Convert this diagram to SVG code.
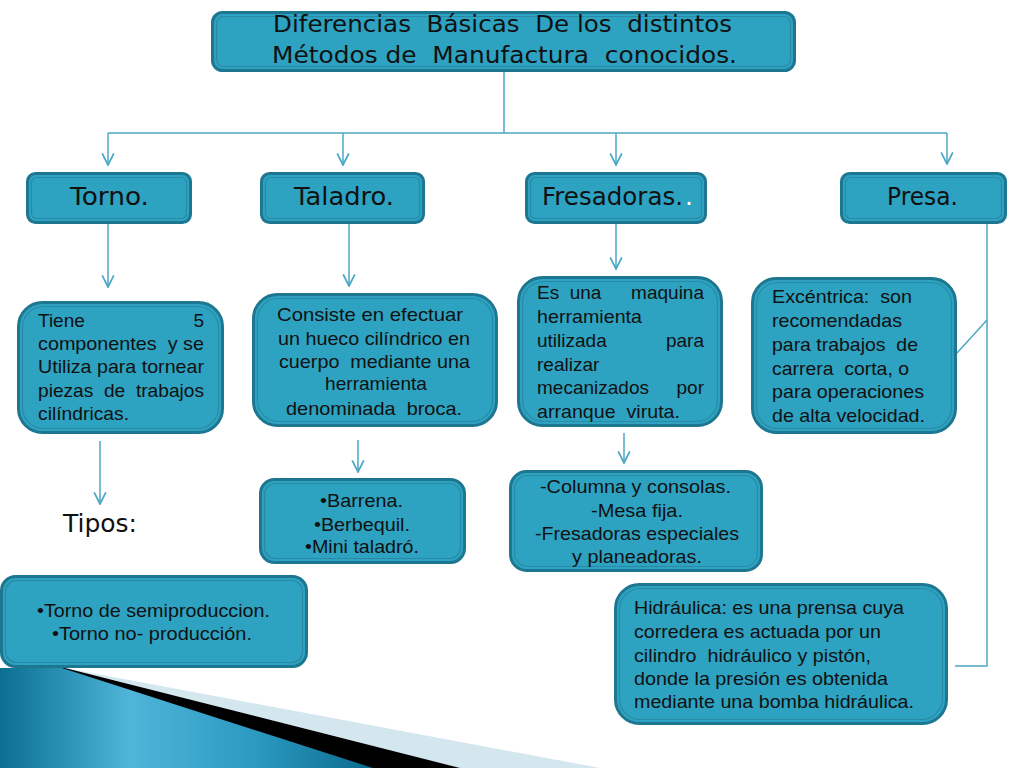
<svg xmlns="http://www.w3.org/2000/svg" width="1024" height="768" viewBox="0 0 1024 768">
<defs>
<style>
.box{fill:#2da2c1;stroke:#1d7790;stroke-width:3}
.inner{fill:none;stroke:#2a8aa5;stroke-width:1.2}
.hd{font-family:"DejaVu Sans","Verdana",sans-serif;font-size:25px;fill:#111;white-space:pre}
.ti{font-family:"DejaVu Sans","Verdana",sans-serif;font-size:23px;fill:#111;white-space:pre}
.bd{font-family:"Liberation Sans",Arial,sans-serif;font-size:19px;fill:#111;white-space:pre}
.c{fill:none;stroke:#4ba7c5;stroke-width:1.5}
.a{marker-end:url(#arr)}
</style>
<marker id="arr" markerUnits="userSpaceOnUse" markerWidth="14" markerHeight="14" viewBox="0 0 12 12" refX="11" refY="6" orient="auto">
<path d="M1,1 L11,6 L1,11" fill="none" stroke="#4ba7c5" stroke-width="1.5"/>
</marker>
<linearGradient id="wave" x1="0" y1="0" x2="1" y2="0">
<stop offset="0" stop-color="#0a6f91"/>
<stop offset="0.35" stop-color="#4fb5d9"/>
<stop offset="0.7" stop-color="#2a98bf"/>
<stop offset="1" stop-color="#0b6a8c"/>
</linearGradient>
</defs>
<rect width="1024" height="768" fill="#fff"/>

<g id="decoration">
<polygon points="0,668 65,668 600,768 0,768" fill="#d4e7ef"/>
<polygon points="0,668 65,668 460,768 0,768" fill="#000"/>
<polygon points="0,668 62,668 373,768 0,768" fill="url(#wave)"/>
</g>

<g id="connectors">
<line class="c" x1="504" y1="72" x2="504" y2="133"/>
<line class="c" x1="108" y1="133" x2="947" y2="133"/>
<line class="c a" x1="108" y1="133" x2="108" y2="165"/>
<line class="c a" x1="343" y1="133" x2="343" y2="165"/>
<line class="c a" x1="616" y1="133" x2="616" y2="165"/>
<line class="c a" x1="947" y1="133" x2="947" y2="164"/>
<line class="c a" x1="108" y1="224" x2="108" y2="287"/>
<line class="c a" x1="349" y1="224" x2="349" y2="286"/>
<line class="c a" x1="616" y1="224" x2="616" y2="269"/>
<line class="c a" x1="100" y1="441" x2="100" y2="504"/>
<line class="c a" x1="358" y1="440" x2="358" y2="472"/>
<line class="c a" x1="624" y1="433" x2="624" y2="463"/>
<polyline class="c" points="987,224 987,666 955,666"/>
<line class="c" x1="957" y1="353" x2="987" y2="320"/>
</g>

<g id="title">
<rect class="box" x="212.5" y="12.5" width="582" height="58" rx="10"/>
<rect class="inner" x="216.5" y="16.5" width="574" height="50" rx="7"/>
<text class="ti" x="273" y="32" textLength="459" lengthAdjust="spacingAndGlyphs">Diferencias  Básicas  De los  distintos</text>
<text class="ti" x="272" y="63" textLength="465" lengthAdjust="spacingAndGlyphs">Métodos de  Manufactura  conocidos.</text>
</g>

<g id="torno">
<rect class="box" x="27.5" y="173.5" width="163" height="49" rx="8"/>
<rect class="inner" x="31.5" y="177.5" width="155" height="41" rx="5"/>
<text class="hd" x="70" y="205" textLength="79" lengthAdjust="spacingAndGlyphs">Torno.</text>
</g>

<g id="taladro">
<rect class="box" x="261.5" y="173.5" width="162" height="49" rx="8"/>
<rect class="inner" x="265.5" y="177.5" width="154" height="41" rx="5"/>
<text class="hd" x="294" y="205" textLength="100" lengthAdjust="spacingAndGlyphs">Taladro.</text>
</g>

<g id="fresadoras">
<rect class="box" x="526.5" y="173.5" width="179" height="49" rx="8"/>
<rect class="inner" x="530.5" y="177.5" width="171" height="41" rx="5"/>
<text class="hd" x="542" y="205" textLength="141" lengthAdjust="spacingAndGlyphs">Fresadoras.</text>
<text class="hd" x="685" y="205" fill="#ffffff" style="fill:#ffffff">.</text>
</g>

<g id="presa">
<rect class="box" x="841.5" y="173.5" width="164" height="49" rx="8"/>
<rect class="inner" x="845.5" y="177.5" width="156" height="41" rx="5"/>
<text class="hd" x="887" y="205" textLength="71" lengthAdjust="spacingAndGlyphs">Presa.</text>
</g>

<g id="torno-desc">
<rect class="box" x="18.5" y="302.5" width="204" height="130" rx="24"/>
<rect class="inner" x="22.5" y="306.5" width="196" height="122" rx="21"/>
<text class="bd" x="38" y="327">Tiene</text>
<text class="bd" x="204" y="327" text-anchor="end">5</text>
<text class="bd" x="38" y="350" textLength="166" lengthAdjust="spacingAndGlyphs">componentes  y se</text>
<text class="bd" x="38" y="373" textLength="166" lengthAdjust="spacingAndGlyphs">Utiliza para tornear</text>
<text class="bd" x="38" y="397" textLength="166" lengthAdjust="spacingAndGlyphs">piezas  de  trabajos</text>
<text class="bd" x="38" y="420" textLength="91" lengthAdjust="spacingAndGlyphs">cilíndricas.</text>
</g>

<g id="taladro-desc">
<rect class="box" x="253.5" y="294.5" width="243" height="131" rx="24"/>
<rect class="inner" x="257.5" y="298.5" width="235" height="123" rx="21"/>
<text class="bd" x="277" y="321" textLength="186" lengthAdjust="spacingAndGlyphs">Consiste en efectuar</text>
<text class="bd" x="278" y="345" textLength="192" lengthAdjust="spacingAndGlyphs">un hueco cilíndrico en</text>
<text class="bd" x="279" y="368" textLength="191" lengthAdjust="spacingAndGlyphs">cuerpo  mediante una</text>
<text class="bd" x="325" y="390" textLength="102" lengthAdjust="spacingAndGlyphs">herramienta</text>
<text class="bd" x="286" y="415" textLength="176" lengthAdjust="spacingAndGlyphs">denominada  broca.</text>
</g>

<g id="fresadoras-desc">
<rect class="box" x="518.5" y="277.5" width="203" height="148" rx="24"/>
<rect class="inner" x="522.5" y="281.5" width="195" height="140" rx="21"/>
<text class="bd" x="537" y="299">Es  una</text>
<text class="bd" x="704" y="299" text-anchor="end">maquina</text>
<text class="bd" x="537" y="323" textLength="105" lengthAdjust="spacingAndGlyphs">herramienta</text>
<text class="bd" x="537" y="347">utilizada</text>
<text class="bd" x="704" y="347" text-anchor="end">para</text>
<text class="bd" x="537" y="371">realizar</text>
<text class="bd" x="537" y="394">mecanizados</text>
<text class="bd" x="704" y="394" text-anchor="end">por</text>
<text class="bd" x="537" y="418" textLength="143" lengthAdjust="spacingAndGlyphs">arranque  viruta.</text>
</g>

<g id="excentrica">
<rect class="box" x="752.5" y="278.5" width="203" height="154" rx="24"/>
<rect class="inner" x="756.5" y="282.5" width="195" height="146" rx="21"/>
<text class="bd" x="772" y="303" textLength="140" lengthAdjust="spacingAndGlyphs">Excéntrica:  son</text>
<text class="bd" x="772" y="327" textLength="130" lengthAdjust="spacingAndGlyphs">recomendadas</text>
<text class="bd" x="772" y="351" textLength="146" lengthAdjust="spacingAndGlyphs">para trabajos  de</text>
<text class="bd" x="772" y="375" textLength="137" lengthAdjust="spacingAndGlyphs">carrera  corta, o</text>
<text class="bd" x="772" y="398" textLength="152" lengthAdjust="spacingAndGlyphs">para operaciones</text>
<text class="bd" x="772" y="422" textLength="153" lengthAdjust="spacingAndGlyphs">de alta velocidad.</text>
</g>

<g id="tipos">
<text class="hd" x="63" y="532" textLength="74" lengthAdjust="spacingAndGlyphs">Tipos:</text>
</g>

<g id="taladro-tipos">
<rect class="box" x="260.5" y="479.5" width="204" height="83" rx="14"/>
<rect class="inner" x="264.5" y="483.5" width="196" height="75" rx="11"/>
<text class="bd" x="320" y="507" textLength="83" lengthAdjust="spacingAndGlyphs">•Barrena.</text>
<text class="bd" x="314" y="531" textLength="96" lengthAdjust="spacingAndGlyphs">•Berbequil.</text>
<text class="bd" x="305" y="553" textLength="114" lengthAdjust="spacingAndGlyphs">•Mini taladró.</text>
</g>

<g id="fresadoras-tipos">
<rect class="box" x="510.5" y="471.5" width="251" height="99" rx="16"/>
<rect class="inner" x="514.5" y="475.5" width="243" height="91" rx="13"/>
<text class="bd" x="540" y="493" textLength="191" lengthAdjust="spacingAndGlyphs">-Columna y consolas.</text>
<text class="bd" x="591" y="517" textLength="92" lengthAdjust="spacingAndGlyphs">-Mesa fija.</text>
<text class="bd" x="535" y="540" textLength="204" lengthAdjust="spacingAndGlyphs">-Fresadoras especiales</text>
<text class="bd" x="572" y="563" textLength="130" lengthAdjust="spacingAndGlyphs">y planeadoras.</text>
</g>

<g id="torno-tipos">
<rect class="box" x="1.5" y="576.5" width="305" height="90" rx="14"/>
<rect class="inner" x="5.5" y="580.5" width="297" height="82" rx="11"/>
<text class="bd" x="37" y="617" textLength="233" lengthAdjust="spacingAndGlyphs">•Torno de semiproduccion.</text>
<text class="bd" x="52" y="640" textLength="200" lengthAdjust="spacingAndGlyphs">•Torno no- producción.</text>
</g>

<g id="hidraulica">
<rect class="box" x="615.5" y="584.5" width="331" height="139" rx="24"/>
<rect class="inner" x="619.5" y="588.5" width="323" height="131" rx="21"/>
<text class="bd" x="634" y="614" textLength="270" lengthAdjust="spacingAndGlyphs">Hidráulica: es una prensa cuya</text>
<text class="bd" x="634" y="638" textLength="247" lengthAdjust="spacingAndGlyphs">corredera es actuada por un</text>
<text class="bd" x="634" y="662" textLength="237" lengthAdjust="spacingAndGlyphs">cilindro  hidráulico y pistón,</text>
<text class="bd" x="634" y="685" textLength="254" lengthAdjust="spacingAndGlyphs">donde la presión es obtenida</text>
<text class="bd" x="634" y="708" textLength="280" lengthAdjust="spacingAndGlyphs">mediante una bomba hidráulica.</text>
</g>
</svg>
